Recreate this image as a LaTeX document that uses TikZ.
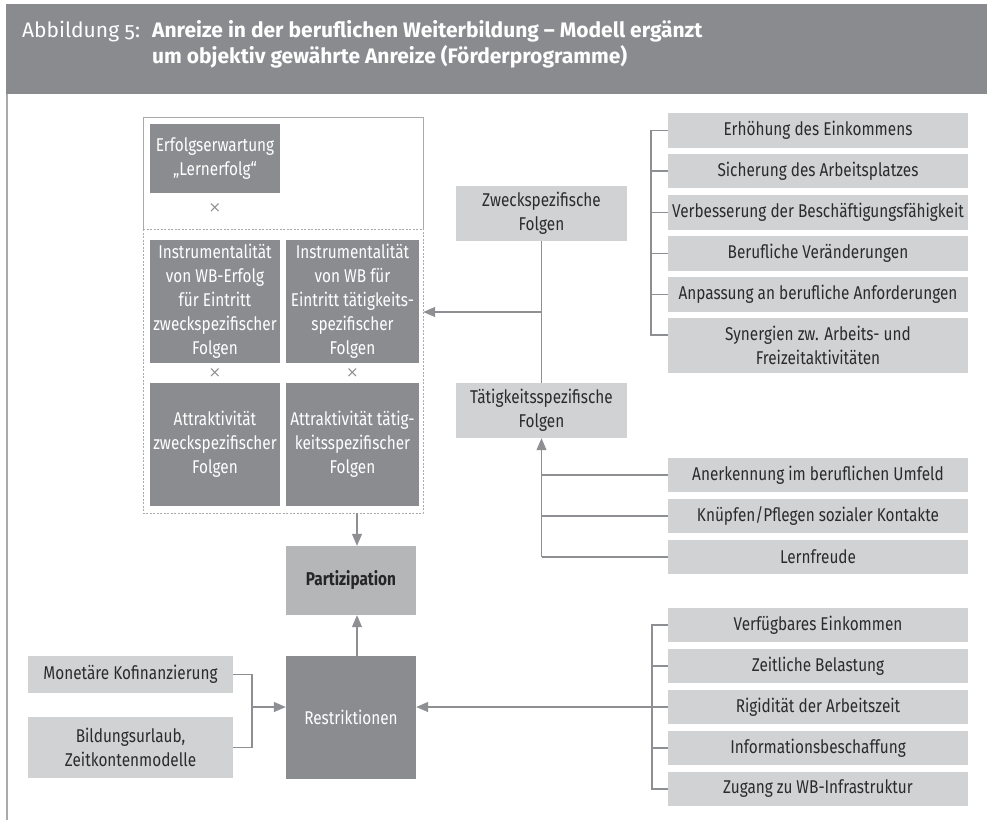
\documentclass[tikz,border=0pt]{standalone}
\usepackage{fontspec}
\setmainfont{Fira Sans}[FakeStretch=0.83]
\newfontfamily\headfont{Fira Sans}[Numbers=OldStyle]
\newfontfamily\crossfont{DejaVu Sans}
\usetikzlibrary{arrows.meta}
\definecolor{band}{HTML}{8A8B8E}
\definecolor{darkbox}{HTML}{8B8C90}
\definecolor{lightbox}{HTML}{D1D2D4}
\definecolor{midbox}{HTML}{B5B6B8}
\definecolor{linec}{HTML}{8E8F92}
\definecolor{framec}{HTML}{A9AAAC}
\definecolor{txt}{HTML}{2B2B2B}
\newcommand\bfnt{\fontsize{18.5}{24}\selectfont}
\newcommand\hfnt{\fontsize{21}{26}\selectfont}
\begin{document}
\begin{tikzpicture}[x=1pt,y=-1pt,
  box/.style={rectangle, inner sep=0pt, align=center, font=\bfnt},
  dark/.style={box, fill=darkbox, text=white},
  light/.style={box, fill=lightbox, text=txt},
  mid/.style={box, fill=midbox, text=txt},
  conn/.style={draw=linec, line width=1.1pt},
  arr/.style={conn, -{Triangle[length=12pt,width=10pt]}, color=linec},
  timesm/.style={inner sep=0pt, text=linec, font=\crossfont\fontsize{15}{15}\selectfont},
  lst/.style={light, minimum width=300pt, minimum height=34.5pt},
]
\useasboundingbox (0,0) rectangle (987,820);
% header
\fill[band] (6,4) rectangle (987,94);
\draw[framec, line width=1.5pt] (6.75,94) -- (6.75,820);
\node[anchor=base west, inner sep=0pt, text=white, font=\headfont\hfnt] (hlab) at (22,37.5) {Abbildung 5:};
\node[anchor=base west, inner sep=0pt, text=white, font=\headfont\hfnt\bfseries] (ht1) at (152,37.5) {Anreize in der beruflichen Weiterbildung – Modell ergänzt};
\node[anchor=base west, inner sep=0pt, text=white, font=\headfont\hfnt\bfseries] (ht2) at (152,63.5) {um objektiv gewährte Anreize (Förderprogramme)};

% outer frame of expectation x value model
\node[minimum width=280pt, minimum height=396pt, inner sep=0pt] (outer) at (283,315) {};
\draw[framec, line width=0.9pt] (143,229) -- (143,117) -- (423,117) -- (423,229);
\draw[framec, line width=0.9pt, dash pattern=on 2pt off 1.5pt] (143,229) -- (423,229);
\draw[framec, line width=0.9pt, dash pattern=on 2pt off 1.5pt] (143,229) -- (143,513) -- (423,513) -- (423,229);

\node[dark, minimum width=130pt, minimum height=69pt] (erf) at (215,158.5) {Erfolgserwartung\\„Lernerfolg“};
\node[timesm] (x1) at (215,208) {×};
\node[dark, minimum width=130pt, minimum height=123pt] (inst1) at (215,301.5) {Instrumentalität\\von WB-Erfolg\\für Eintritt\\zweckspezifischer\\Folgen};
\node[dark, minimum width=133pt, minimum height=123pt] (inst2) at (352.5,301.5) {Instrumentalität\\von WB für\\Eintritt tätigkeits-\\spezifischer\\Folgen};
\node[timesm] (x2) at (215,373) {×};
\node[timesm] (x3) at (352.5,373) {×};
\node[dark, minimum width=130pt, minimum height=123pt] (attr1) at (215,444.5) {Attraktivität\\zweckspezifischer\\Folgen};
\node[dark, minimum width=133pt, minimum height=123pt] (attr2) at (352.5,444.5) {Attraktivität tätig-\\keitsspezifischer\\Folgen};

% middle column
\node[light, minimum width=171pt, minimum height=55pt] (zweck) at (541.5,213.5) {Zweckspezifische\\Folgen};
\node[light, minimum width=171pt, minimum height=55pt] (taet) at (541.5,410.5) {Tätigkeitsspezifische\\Folgen};
\draw[conn] (zweck.south) -- (taet.north);
\coordinate (j1) at (541.5,312);
\draw[arr] (j1) -- (j1 -| outer.east);

% top right list
\node[lst] (t1) at (818,130.5) {Erhöhung des Einkommens};
\node[lst] (t2) at (818,171) {Sicherung des Arbeitsplatzes};
\node[lst] (t3) at (818,212.5) {Verbesserung der Beschäftigungsfähigkeit};
\node[lst] (t4) at (818,253.5) {Berufliche Veränderungen};
\node[lst] (t5) at (818,294.5) {Anpassung an berufliche Anforderungen};
\node[light, minimum width=300pt, minimum height=55pt] (t6) at (818,345.5) {Synergien zw. Arbeits- und\\Freizeitaktivitäten};
\coordinate (tb) at (651,335);
\draw[conn] (t1.west) -| (tb) -- (tb -| t6.west);
\foreach \n in {t2,t3,t4,t5} \draw[conn] (\n.west) -- (\n.west -| tb);

% lower right list (taetigkeitsspezifisch)
\node[lst] (l1) at (818,475) {Anerkennung im beruflichen Umfeld};
\node[lst] (l2) at (818,516) {Knüpfen/Pflegen sozialer Kontakte};
\node[lst] (l3) at (818,557) {Lernfreude};
\coordinate (j2) at (541.5,557);
\draw[conn] (l3.west) -- (j2);
\draw[arr] (j2) -- (j2 |- taet.south);
\draw[conn] (l1.west) -- (l1.west -| j2);
\draw[conn] (l2.west) -- (l2.west -| j2);

% centre bottom
\node[mid, minimum width=130pt, minimum height=69pt, font=\bfnt\bfseries, text=black!85] (part) at (351,580.5) {Partizipation};
\node[dark, minimum width=130pt, minimum height=123pt] (restr) at (351,717.5) {Restriktionen};
\coordinate (a1) at (357,513);
\draw[arr] (a1) -- (a1 |- part.north);
\draw[arr] (a1 |- restr.north) -- (a1 |- part.south);

% restriction list
\node[lst] (r1) at (818,625) {Verfügbares Einkommen};
\node[lst] (r2) at (818,666) {Zeitliche Belastung};
\node[lst] (r3) at (818,707) {Rigidität der Arbeitszeit};
\node[lst] (r4) at (818,748) {Informationsbeschaffung};
\node[lst] (r5) at (818,789) {Zugang zu WB-Infrastruktur};
\coordinate (rb) at (652,625);
\draw[conn] (r1.west) -- (rb) |- (r5.west);
\foreach \n in {r2,r4} \draw[conn] (\n.west) -- (\n.west -| rb);
\draw[arr] (r3.west) -- (r3.west -| restr.east);

% left support programmes
\node[light, minimum width=205pt, minimum height=37pt] (mon) at (130.5,674.5) {Monetäre Kofinanzierung};
\node[light, minimum width=205pt, minimum height=61pt] (bild) at (130.5,747.5) {Bildungsurlaub,\\Zeitkontenmodelle};
\coordinate (jl) at (252,707);
\draw[conn] (mon.east) -| (jl) |- (bild.east);
\draw[arr] (jl) -- (jl -| restr.west);
\end{tikzpicture}
\end{document}
